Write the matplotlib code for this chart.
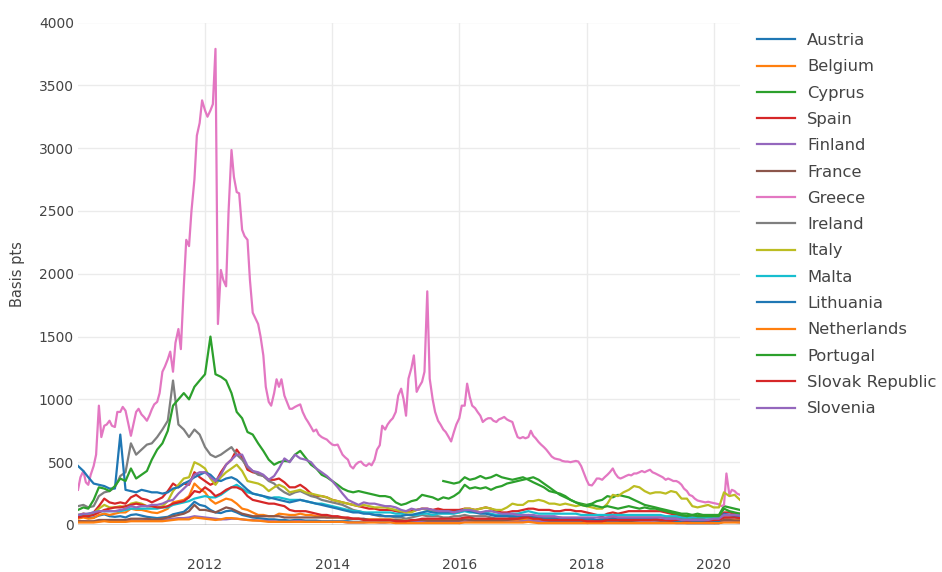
import numpy as np
import pandas as pd
import matplotlib
matplotlib.use('Agg')
import matplotlib.pyplot as plt
import matplotlib.dates as mdates

## 10y spreads, basis points (monthly, Greece twice a month)

months = pd.date_range('2010-01-01', periods=126, freq='MS')
half_months = pd.date_range('2010-01-01', periods=251, freq='SMS')

countries = ['Austria', 'Belgium', 'Cyprus', 'Spain', 'Finland', 'France', 'Greece', 'Ireland',
             'Italy', 'Malta', 'Lithuania', 'Netherlands', 'Portugal', 'Slovak Republic', 'Slovenia']

austria = [60, 70, 55, 60, 75, 85, 70, 65, 70, 60, 80, 85,
           75, 65, 60, 55, 60, 65, 85, 95, 105, 140, 185, 160,
           150, 120, 100, 95, 110, 115, 100, 80, 70, 60, 55, 50,
           45, 45, 40, 40, 35, 40, 40, 35, 35, 35, 30, 30,
           30, 30, 30, 30, 25, 25, 25, 25, 25, 25, 25, 25,
           25, 25, 25, 25, 30, 30, 30, 25, 25, 25, 25, 25,
           25, 30, 30, 25, 25, 25, 30, 25, 25, 25, 30, 30,
           35, 40, 40, 35, 30, 30, 25, 25, 25, 25, 25, 25,
           25, 25, 25, 20, 20, 25, 25, 25, 25, 20, 20, 20,
           20, 20, 20, 20, 20, 20, 20, 15, 15, 15, 15, 15,
           15, 15, 30, 30, 25, 25]

belgium = [50, 60, 50, 55, 80, 90, 80, 90, 100, 100, 130, 120,
           120, 110, 100, 95, 110, 130, 180, 190, 200, 230, 330, 290,
           260, 200, 170, 190, 210, 200, 170, 130, 120, 100, 80, 80,
           70, 70, 90, 85, 80, 80, 90, 80, 80, 70, 70, 60,
           60, 60, 55, 50, 50, 50, 45, 45, 45, 45, 45, 45,
           40, 40, 35, 35, 40, 40, 35, 35, 35, 35, 30, 35,
           40, 45, 45, 40, 40, 40, 40, 35, 35, 35, 40, 40,
           45, 50, 45, 40, 35, 35, 35, 35, 35, 35, 30, 30,
           30, 30, 30, 30, 35, 35, 35, 35, 35, 35, 35, 35,
           35, 35, 35, 30, 30, 30, 30, 30, 25, 25, 30, 30,
           30, 30, 50, 45, 40, 40]

# no quotes for Cyprus before Oct 2015
cyprus = [np.nan] * 69 + [350, 340, 330,
           340, 380, 360, 370, 390, 370, 380, 400, 380, 370, 360, 370,
           380, 360, 340, 320, 300, 270, 260, 250, 230, 200, 180, 170,
           160, 170, 190, 200, 230, 220, 240, 230, 220, 200, 180, 160,
           150, 140, 130, 120, 110, 100, 90, 90, 80, 90, 80, 80,
           80, 80, 150, 140, 130, 120]

spain = [70, 90, 80, 100, 150, 210, 180, 170, 180, 170, 220, 240,
         210, 200, 180, 200, 220, 270, 330, 300, 330, 320, 420, 380,
         350, 320, 340, 420, 480, 520, 600, 540, 440, 420, 410, 390,
         360, 360, 370, 340, 300, 300, 320, 290, 250, 230, 230, 220,
         200, 190, 180, 170, 160, 150, 140, 130, 130, 120, 120, 120,
         110, 100, 100, 110, 120, 130, 130, 120, 130, 120, 120, 120,
         120, 130, 130, 120, 130, 140, 130, 110, 100, 100, 110, 110,
         120, 130, 130, 120, 120, 120, 110, 110, 120, 120, 110, 110,
         100, 90, 80, 70, 90, 100, 90, 100, 110, 110, 110, 110,
         110, 110, 110, 100, 90, 80, 70, 70, 70, 70, 70, 60,
         60, 60, 100, 100, 90, 90]

finland = [30, 30, 25, 25, 30, 35, 30, 30, 30, 30, 35, 35,
           35, 40, 40, 40, 40, 45, 50, 55, 55, 60, 70, 65,
           60, 55, 50, 45, 45, 50, 50, 45, 40, 40, 35, 35,
           30, 30, 25, 25, 25, 30, 30, 25, 25, 25, 25, 25,
           25, 25, 25, 20, 20, 20, 20, 25, 25, 20, 20, 25,
           20, 25, 25, 20, 25, 25, 20, 25, 25, 25, 25, 25,
           25, 30, 30, 30, 30, 30, 30, 30, 25, 25, 25, 25,
           30, 35, 30, 30, 25, 25, 25, 25, 25, 25, 25, 25,
           25, 25, 25, 20, 20, 25, 25, 25, 25, 20, 20, 20,
           20, 20, 20, 20, 20, 15, 15, 15, 15, 15, 15, 15,
           15, 15, 30, 25, 25, 20]

france = [30, 30, 30, 30, 40, 40, 40, 40, 40, 40, 50, 50,
          50, 50, 45, 45, 50, 60, 70, 80, 90, 110, 160, 120,
          120, 110, 100, 120, 140, 130, 110, 90, 80, 70, 70, 70,
          70, 70, 70, 60, 60, 60, 60, 60, 60, 60, 60, 60,
          60, 60, 60, 50, 50, 50, 50, 40, 40, 40, 40, 40,
          40, 35, 30, 35, 40, 40, 35, 35, 35, 35, 35, 35,
          35, 45, 40, 35, 35, 35, 35, 35, 35, 40, 45, 50,
          55, 70, 65, 55, 40, 35, 35, 35, 35, 35, 35, 35,
          30, 30, 30, 30, 35, 35, 35, 30, 30, 35, 40, 45,
          45, 40, 35, 35, 35, 30, 30, 30, 30, 30, 30, 30,
          30, 30, 40, 40, 35, 35]

greece = [280, 380, 430, 340, 320, 400, 470, 560, 950, 700, 790, 800, 830, 790, 780, 900,
          900, 940, 910, 820, 710, 800, 900, 925,
          880, 860, 830, 870, 920, 960, 980, 1050, 1220, 1260, 1320, 1380,
          1220, 1450, 1560, 1400, 1900, 2270, 2220, 2500, 2750, 3100, 3200, 3380,
          3300, 3250, 3300, 3350, 3790, 1600, 2030, 1950, 1900, 2490, 2985, 2770,
          2650, 2640, 2350, 2300, 2270, 1950, 1690, 1650, 1600, 1500, 1350, 1100,
          980, 950, 1050, 1160, 1100, 1160, 1030, 980, 925,
          925, 940, 950, 960, 900, 850, 820, 780, 745, 760, 720, 700, 690, 680, 660,
          640, 635, 640, 600, 560, 540, 520, 470, 450, 480, 500, 505, 480, 470, 490,
          475, 520, 600, 635, 790, 760, 800, 830, 850, 900, 1030, 1085, 1000, 870, 1165,
          1250, 1350, 1060, 1100, 1140, 1220, 1860, 1165, 1000, 900, 830, 800, 760, 740,
          700, 665, 740, 800, 850, 950,
          950, 1125, 1020, 950, 930, 900, 870, 820, 840, 850, 850, 830, 820, 840, 850,
          860, 840, 830, 820, 760, 700, 690, 700, 690, 700, 750, 710, 690, 660, 640,
          620, 600, 570, 545, 530, 525, 520, 510, 505, 505, 500, 505, 510, 505, 470,
          420, 360, 320, 315, 340, 370, 370, 360, 380, 400, 420, 450, 410, 380, 370,
          380, 390, 400, 395, 410,
          410, 420, 430, 420, 430, 440, 420, 410, 400, 390, 380, 360, 370, 360, 350,
          350, 340, 320, 290, 270, 240, 230, 210, 195, 190, 185, 180, 185, 180, 175,
          170, 165, 150, 160, 410, 240, 280, 270, 250, 240]

ireland = [150, 160, 140, 150, 230, 260, 270, 300, 390, 420, 650, 560,
           600, 640, 650, 700, 760, 830, 1150, 800, 760, 700, 760, 720,
           620, 560, 540, 560, 590, 620, 560, 520, 460, 430, 400, 390,
           350, 330, 290, 260, 240, 260, 270, 250, 230, 220, 200, 190,
           180, 170, 160, 140, 120, 110, 100, 90, 80, 70, 70, 70,
           60, 60, 50, 60, 70, 80, 70, 70, 70, 60, 60, 70,
           70, 80, 70, 70, 70, 70, 60, 50, 50, 50, 60, 60,
           70, 80, 70, 70, 60, 60, 60, 60, 50, 50, 50, 50,
           40, 40, 40, 50, 60, 60, 60, 60, 60, 60, 60, 60,
           60, 60, 60, 60, 60, 60, 50, 50, 50, 50, 50, 40,
           40, 40, 60, 60, 60, 55]

italy = [80, 90, 80, 90, 130, 160, 140, 140, 150, 140, 170, 180,
         170, 150, 150, 140, 150, 190, 270, 320, 370, 380, 500, 480,
         450, 370, 320, 380, 420, 450, 480, 430, 350, 340, 330, 310,
         270, 300, 320, 300, 260, 270, 280, 260, 250, 240, 230, 220,
         200, 190, 180, 170, 160, 150, 160, 150, 140, 140, 140, 130,
         120, 110, 100, 100, 120, 130, 120, 110, 110, 100, 100, 100,
         100, 130, 130, 120, 130, 140, 130, 120, 120, 140, 170, 160,
         160, 190, 190, 200, 190, 170, 170, 160, 170, 160, 150, 160,
         150, 140, 130, 130, 170, 240, 230, 260, 280, 310, 300, 270,
         250, 260, 260, 250, 270, 260, 210, 210, 150, 140, 150, 160,
         140, 140, 260, 230, 240, 200]

malta = [80, 80, 90, 100, 110, 110, 110, 110, 110, 120, 130, 130,
         130, 130, 130, 130, 140, 140, 160, 170, 180, 190, 210, 220,
         230, 220, 220, 240, 270, 300, 320, 290, 260, 250, 240, 230,
         210, 220, 220, 210, 200, 200, 200, 190, 180, 170, 170, 160,
         150, 140, 130, 120, 110, 110, 100, 100, 100, 100, 100, 100,
         90, 90, 80, 80, 80, 90, 90, 80, 90, 90, 90, 90,
         100, 110, 100, 100, 100, 100, 90, 80, 80, 80, 90, 90,
         100, 110, 100, 90, 90, 90, 90, 90, 90, 90, 90, 80,
         80, 80, 80, 80, 80, 80, 80, 80, 80, 80, 80, 80,
         80, 80, 80, 70, 70, 70, 60, 60, 60, 60, 60, 60,
         60, 60, 80, 80, 80, 70]

lithuania = [470, 430, 380, 330, 320, 310, 290, 290, 720, 280, 270, 260,
             280, 270, 260, 260, 250, 260, 290, 300, 330, 350, 380, 400,
             420, 400, 360, 350, 370, 380, 360, 320, 280, 250, 240, 230,
             220, 210, 200, 190, 180, 190, 200, 190, 180, 170, 160, 150,
             140, 130, 120, 110, 100, 100, 90, 90, 80, 80, 70, 70,
             70, 70, 80, 80, 90, 100, 110, 100, 100, 100, 100, 100,
             110, 120, 110, 100, 90, 90, 80, 70, 70, 70, 70, 70,
             70, 70, 60, 60, 50, 50, 50, 50, 50, 50, 50, 50,
             50, 50, 40, 40, 50, 50, 50, 50, 50, 50, 50, 50,
             50, 50, 40, 40, 40, 30, 20, 20, 20, 20, 20, 20,
             20, 30, 90, 80, 70, 60]

netherlands = [20, 20, 20, 20, 25, 30, 25, 25, 25, 25, 30, 30,
               30, 30, 30, 30, 30, 35, 40, 45, 45, 45, 60, 55,
               50, 45, 40, 45, 55, 55, 50, 45, 40, 35, 35, 30,
               25, 25, 25, 25, 25, 25, 25, 25, 25, 25, 25, 25,
               25, 25, 25, 20, 20, 20, 20, 20, 20, 20, 20, 20,
               15, 15, 15, 15, 15, 15, 15, 15, 15, 15, 15, 15,
               15, 20, 20, 20, 20, 20, 20, 20, 20, 20, 20, 20,
               20, 25, 20, 15, 15, 15, 15, 15, 15, 15, 15, 15,
               15, 15, 15, 15, 15, 15, 15, 15, 15, 15, 15, 15,
               15, 15, 15, 15, 15, 15, 15, 15, 15, 15, 15, 15,
               15, 15, 20, 20, 20, 20]

portugal = [120, 140, 130, 200, 300, 290, 270, 310, 370, 350, 450, 370,
            400, 430, 520, 600, 650, 750, 950, 1000, 1050, 1000, 1100, 1150,
            1200, 1500, 1200, 1180, 1150, 1050, 900, 850, 740, 720, 650, 590,
            520, 480, 500, 510, 505, 560, 590, 535, 480, 450, 400, 380,
            350, 320, 290, 270, 260, 270, 260, 250, 240, 230, 230, 220,
            180, 160, 170, 190, 200, 240, 230, 220, 200, 220, 210, 230,
            260, 320, 290, 300, 290, 300, 280, 300, 310, 330, 340, 350,
            360, 370, 380, 360, 330, 300, 270, 240, 220, 200, 180, 160,
            150, 160, 150, 140, 150, 140, 130, 140, 150, 140, 130, 140,
            130, 130, 120, 110, 100, 90, 80, 70, 80, 70, 70, 70,
            70, 70, 130, 110, 100, 90]

slovak = [60, 70, 70, 80, 100, 120, 130, 140, 140, 150, 160, 170,
          160, 150, 150, 140, 140, 150, 170, 180, 190, 220, 270, 260,
          300, 270, 230, 250, 280, 300, 300, 280, 230, 200, 190, 180,
          170, 170, 160, 150, 120, 110, 110, 110, 100, 90, 80, 80,
          70, 70, 60, 60, 50, 50, 40, 40, 40, 40, 40, 40,
          30, 30, 30, 40, 40, 50, 50, 50, 50, 50, 50, 50,
          50, 60, 60, 50, 50, 50, 50, 50, 50, 50, 50, 50,
          60, 60, 50, 50, 40, 40, 40, 40, 40, 40, 40, 40,
          30, 30, 30, 30, 40, 40, 40, 40, 40, 40, 40, 40,
          40, 45, 40, 40, 35, 40, 40, 35, 40, 40, 40, 35,
          40, 40, 60, 60, 60, 55]

slovenia = [80, 90, 90, 100, 110, 110, 110, 110, 120, 130, 150, 140,
            150, 150, 160, 160, 170, 190, 200, 250, 290, 330, 400, 420,
            420, 380, 350, 400, 480, 520, 560, 560, 470, 430, 420, 400,
            360, 390, 450, 530, 500, 560, 530, 520, 500, 450, 420, 390,
            350, 300, 250, 200, 180, 160, 180, 170, 170, 160, 150, 150,
            140, 120, 110, 130, 120, 130, 130, 120, 110, 110, 110, 100,
            110, 120, 120, 110, 100, 110, 110, 100, 90, 90, 90, 80,
            80, 80, 80, 70, 70, 70, 70, 60, 60, 60, 60, 60,
            60, 60, 60, 60, 60, 70, 60, 60, 60, 60, 60, 60,
            60, 60, 60, 50, 50, 50, 40, 40, 40, 40, 40, 40,
            50, 50, 80, 80, 80, 75]

spreads = [austria, belgium, cyprus, spain, finland, france, greece, ireland,
           italy, malta, lithuania, netherlands, portugal, slovak, slovenia]

colours = ['#1f77b4', '#ff7f0e', '#2ca02c', '#d62728', '#9467bd',
           '#8c564b', '#e377c2', '#7f7f7f', '#bcbd22', '#17becf']

plt.rcParams['font.family'] = ['DejaVu Sans']
plt.rcParams['font.size'] = 10

fig = plt.figure(figsize=(9.42, 5.72), dpi=100)
ax = fig.add_axes([78/942, 1 - 525/572, 662/942, 502.5/572])

for i in range(len(countries)):
    dates = half_months if countries[i] == 'Greece' else months       # Greece read twice a month
    ax.plot(dates, spreads[i], color=colours[i % 10], lw=1.6, label=countries[i], zorder=3)

ax.set_ylim(0, 4000)
ax.set_xlim(pd.Timestamp('2010-01-01'), pd.Timestamp('2020-06-01'))
ax.set_yticks(np.arange(0, 4001, 500))
ax.set_xticks([pd.Timestamp(str(y) + '-01-01') for y in range(2012, 2021, 2)])
ax.xaxis.set_major_formatter(mdates.DateFormatter('%Y'))

ax.grid(True, color='#ebebeb', lw=1, zorder=0)
ax.axhline(0, color='#444444', lw=1, zorder=2)                        #zero line
for s in ax.spines.values():
    s.set_visible(False)
ax.tick_params(length=0, colors='#444444', labelsize=10)
ax.tick_params(axis='y', pad=3)
ax.tick_params(axis='x', pad=24)
ax.set_ylabel('Basis pts', color='#444444', fontsize=10.5, labelpad=10)

leg = ax.legend(loc='upper left', bbox_to_anchor=(757/942, 1 - 33/572), bbox_transform=fig.transFigure,
                frameon=False, handlelength=2.3, handletextpad=0.75, labelspacing=0.69,
                borderpad=0, borderaxespad=0, fontsize=11.8)
for t in leg.get_texts():
    t.set_color('#444444')

plt.savefig('out.png', dpi=100)
